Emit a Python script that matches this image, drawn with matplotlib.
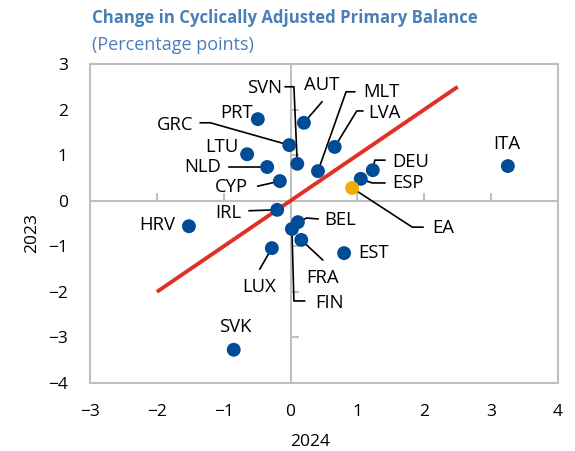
import matplotlib
matplotlib.use("Agg")
import matplotlib.pyplot as plt

plt.rcParams['font.family'] = ['Open Sans', 'DejaVu Sans']

# Change in cyclically adjusted primary balance, percentage points
countries = ["ITA", "HRV", "SVK", "PRT", "AUT", "GRC", "LTU", "NLD", "SVN", "CYP",
             "MLT", "LVA", "IRL", "BEL", "FIN", "FRA", "EST", "LUX", "DEU", "ESP", "EA"]
x_2024 = [3.25, -1.52, -0.85, -0.49, 0.20, -0.02, -0.65, -0.35, 0.10, -0.16,
          0.41, 0.66, -0.20, 0.11, 0.02, 0.16, 0.80, -0.28, 1.23, 1.05, 0.92]
y_2023 = [0.76, -0.56, -3.27, 1.79, 1.71, 1.22, 1.02, 0.74, 0.81, 0.43,
          0.65, 1.18, -0.20, -0.47, -0.62, -0.86, -1.15, -1.04, 0.67, 0.48, 0.28]

# Label anchor (data coords), horizontal alignment, and leader elbow points
labels = {
    "ITA": ((3.24, 1.24), "center", []),
    "HRV": ((-1.72, -0.53), "right", []),
    "SVK": ((-0.83, -2.77), "center", []),
    "PRT": ((-0.56, 1.93), "right", []),
    "AUT": ((0.46, 2.54), "center", [(0.47, 2.17)]),
    "GRC": ((-1.46, 1.66), "right", [(-1.35, 1.71), (-1.20, 1.71)]),
    "LTU": ((-0.78, 1.18), "right", []),
    "NLD": ((-1.04, 0.74), "right", [(-0.92, 0.74)]),
    "SVN": ((-0.13, 2.47), "right", [(-0.08, 2.50), (0.05, 2.50)]),
    "CYP": ((-0.64, 0.30), "right", [(-0.49, 0.32)]),
    "MLT": ((1.08, 2.39), "left", [(0.96, 2.39), (0.83, 2.39)]),
    "LVA": ((1.16, 1.92), "left", [(1.08, 1.97), (0.99, 1.97)]),
    "IRL": ((-0.74, -0.27), "right", [(-0.62, -0.22)]),
    "BEL": ((0.51, -0.42), "left", [(0.41, -0.40), (0.24, -0.38)]),
    "FIN": ((0.37, -2.25), "left", [(0.21, -2.20), (0.05, -2.20)]),
    "FRA": ((0.48, -1.70), "center", [(0.48, -1.30)]),
    "EST": ((1.01, -1.15), "left", []),
    "LUX": ((-0.47, -1.90), "center", [(-0.46, -1.50)]),
    "DEU": ((1.52, 0.85), "left", [(1.41, 0.89), (1.26, 0.89)]),
    "ESP": ((1.52, 0.39), "left", [(1.41, 0.39), (1.22, 0.39)]),
    "EA": ((2.12, -0.60), "left", [(1.98, -0.58), (1.82, -0.58)]),
}

fit_x = [-2.0, 2.5]
fit_y = [-2.0, 2.5]

x_ticks = [-3, -2, -1, 0, 1, 2, 3, 4]
y_ticks = [3, 2, 1, 0, -1, -2, -3, -4]

BLUE = "#004C97"
ORANGE = "#F2AE00"
GREY = "#BFBFBF"
TITLE = "#4A7FB8"

fig = plt.figure(figsize=(5.75, 4.51), dpi=100)
ax = fig.add_axes([90 / 575, 1 - 383 / 451, 468 / 575, 319 / 451])
ax.set_xlim(-3, 4)
ax.set_ylim(-4, 3)

for s in ax.spines.values():
    s.set_color(GREY)
    s.set_linewidth(1.5)

ax.set_xticks(x_ticks)
ax.set_yticks(y_ticks)
ax.tick_params(length=0, labelsize=12.5)
ax.tick_params(axis="x", pad=15)
ax.tick_params(axis="y", pad=16)
ax.set_xlabel("2024", fontsize=12.5)
ax.set_ylabel("2023", fontsize=12.5)
ax.xaxis.set_label_coords(0.47, -0.16)
ax.yaxis.set_label_coords(-0.107, 0.47)

# zero axes with tick marks
ax.axhline(0, color=GREY, lw=1.5, zorder=1)
ax.axvline(0, color=GREY, lw=1.5, zorder=1)
xt = [t for t in x_ticks if t not in (0, -3, 4)]
yt = [t for t in y_ticks if t not in (0, 3, -4)]
ax.plot(xt, [0] * len(xt), ls="none", marker=2, ms=6, mew=1.5, color=GREY, zorder=1)
ax.plot([0] * len(yt), yt, ls="none", marker=1, ms=6, mew=1.5, color=GREY, zorder=1)

# 45-degree line
ax.plot(fit_x, fit_y, color="#E03127", lw=2.8, zorder=2, solid_capstyle="butt")

pos = dict(zip(countries, zip(x_2024, y_2023)))

# leader lines and labels
for name, ((lx, ly), ha, elbow) in labels.items():
    if elbow:
        px = [p[0] for p in elbow] + [pos[name][0]]
        py = [p[1] for p in elbow] + [pos[name][1]]
        ax.plot(px, py, color="black", lw=1.2, zorder=3)
    ax.text(lx, ly, name, ha=ha, va="center", fontsize=13.3, zorder=5)

colors = [ORANGE if c == "EA" else BLUE for c in countries]
ax.scatter(x_2024, y_2023, s=100, c=colors, linewidths=0, zorder=4)

fig.text(92 / 575, 1 - 18 / 451, "Change in Cyclically Adjusted Primary Balance",
         color=TITLE, fontsize=12.1, fontweight="bold", va="center", ha="left")
fig.text(92 / 575, 1 - 45 / 451, "(Percentage points)",
         color=TITLE, fontsize=13, va="center", ha="left")

fig.savefig("out.png", dpi=100)
